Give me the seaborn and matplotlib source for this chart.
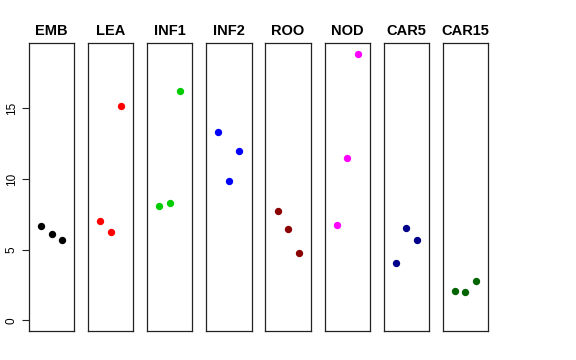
import pandas as pd
import seaborn as sns
import matplotlib
matplotlib.use("Agg")
import matplotlib.pyplot as plt

# data, three replicates per tissue
tissues = ["EMB", "LEA", "INF1", "INF2", "ROO", "NOD", "CAR5", "CAR15"]
colors = ["black", "#FF0000", "#00CD00", "#0000FF", "#8B0000", "#FF00FF", "#00008B", "#006400"]
replicate = [1, 2, 3]
emb = [6.69, 6.09, 5.68]
lea = [7.00, 6.27, 15.20]
inf1 = [8.09, 8.28, 16.20]
inf2 = [13.33, 9.84, 12.00]
roo = [7.71, 6.44, 4.78]
nod = [6.74, 11.50, 18.87]
car5 = [4.03, 6.53, 5.70]
car15 = [2.10, 1.98, 2.80]
values = [emb, lea, inf1, inf2, roo, nod, car5, car15]
yticks = [0, 5, 10, 15]

rows = []
for t, vals in zip(tissues, values):
    for r, v in zip(replicate, vals):
        rows.append({"tissue": t, "rep": r, "expr": v})
df = pd.DataFrame(rows)

sns.set_style("white")
plt.rcParams["font.family"] = ["Liberation Sans", "DejaVu Sans"]
plt.rcParams["text.color"] = "black"
plt.rcParams["ytick.color"] = "black"

fig, axes = plt.subplots(1, len(tissues), figsize=(5.76, 3.6), dpi=100, sharey=True)
fig.subplots_adjust(left=29 / 576, right=488 / 576, top=1 - 43 / 360,
                    bottom=1 - 331 / 360, wspace=0.31)

ymax = df["expr"].max()
for ax, t, c in zip(axes, tissues, colors):
    sub = df[df["tissue"] == t]
    sns.scatterplot(data=sub, x="rep", y="expr", color=c, s=28, linewidth=0, ax=ax)
    ax.set_xlim(-0.16, 4.16)
    ax.set_ylim(-0.04 * ymax, 1.04 * ymax)
    ax.set_title(t, fontsize=10.5, fontweight="bold", pad=6, color="black")
    ax.set_xlabel("")
    ax.set_ylabel("")
    ax.set_xticks([])
    for sp in ax.spines.values():
        sp.set_visible(True)
        sp.set_color("#222222")
        sp.set_linewidth(0.9)
    ax.tick_params(left=False, labelleft=False)

ax0 = axes[0]
ax0.set_yticks(yticks)
ax0.set_yticklabels([str(v) for v in yticks], rotation=90, va="center", fontsize=8.5)
ax0.tick_params(left=True, labelleft=True, length=5, width=0.8, color="#222222",
                labelcolor="black", pad=3)

fig.savefig("out.png", dpi=100)
